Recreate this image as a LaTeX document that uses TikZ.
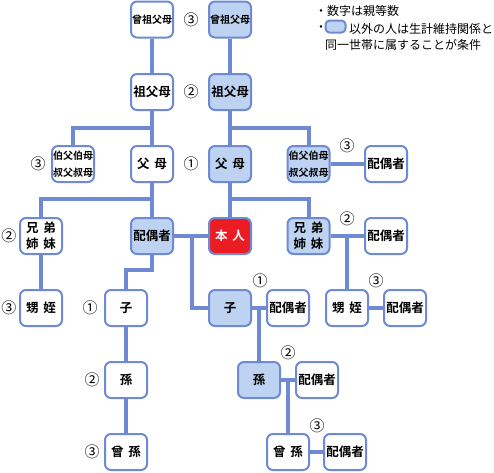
\documentclass[tikz,border=0pt]{standalone}
\usepackage{fontspec}
\setmainfont{Noto Sans CJK JP}[BoldFont=Noto Sans CJK JP Bold]
\usetikzlibrary{backgrounds}
\definecolor{bline}{RGB}{111,138,212}
\definecolor{bfill}{RGB}{190,210,241}
\definecolor{sred}{RGB}{236,28,36}
\tikzset{
  x=1pt,y=-1pt,
  pbox/.style={draw=bline,line width=2pt,rounded corners=6pt,fill=white,minimum width=42pt,minimum height=36pt,inner sep=0pt,align=center,font=\fontsize{12.5}{16}\selectfont\bfseries},
  bbox/.style={pbox,fill=bfill},
  sbox/.style={pbox,draw=bline,fill=sred,text=white},
  small/.style={font=\fontsize{10}{16.5}\selectfont\bfseries},
  conn/.style={draw=bline,line width=4pt},
  deg/.style={font=\fontsize{15}{15}\selectfont,inner sep=0pt},
  legend/.style={font=\fontsize{12}{16}\selectfont,anchor=west,inner sep=0pt},
}
\begin{document}
\begin{tikzpicture}
\useasboundingbox (0,0) rectangle (494,472);
% boxes
\node[pbox,small] (lcgp) at (152,19.5) {曾祖父母};
\node[bbox,small] (rcgp) at (230,19.5) {曾祖父母};
\node[pbox] (lgp) at (152,92) {祖父母};
\node[bbox] (rgp) at (230,92) {祖父母};
\node[pbox,small] (luncle) at (73,164) {伯父伯母\\叔父叔母};
\node[pbox] (lp) at (152,164) {父\hspace{0.4em}母};
\node[bbox] (rp) at (230,164) {父\hspace{0.4em}母};
\node[bbox,small] (runcle) at (308.5,164) {伯父伯母\\叔父叔母};
\node[pbox] (runclesp) at (386,164) {配偶者};
\node[pbox] (lsib) at (41,236) {兄\hspace{0.4em}弟\\姉\hspace{0.4em}妹};
\node[bbox] (lsp) at (152,236) {配偶者};
\node[sbox] (self) at (230,236) {本\hspace{0.4em}人};
\node[bbox] (rsib) at (308.5,236) {兄\hspace{0.4em}弟\\姉\hspace{0.4em}妹};
\node[pbox] (rsibsp) at (386,236) {配偶者};
\node[pbox] (lneph) at (41,308) {甥\hspace{0.4em}姪};
\node[pbox] (lchild) at (126,308) {子};
\node[bbox] (rchild) at (230,308) {子};
\node[pbox] (rchildsp) at (288,308) {配偶者};
\node[pbox] (rneph) at (347,308) {甥\hspace{0.4em}姪};
\node[pbox] (rnephsp) at (405,308) {配偶者};
\node[pbox] (lgc) at (126,380) {孫};
\node[bbox] (rgc) at (259,380) {孫};
\node[pbox] (rgcsp) at (317,380) {配偶者};
\node[pbox] (lggc) at (126,452) {曾\hspace{0.4em}孫};
\node[pbox] (rggc) at (288,452) {曾\hspace{0.4em}孫};
\node[pbox] (rggcsp) at (345,452) {配偶者};
% junctions
\coordinate (j1) at (152,128);
\coordinate (j2) at (230,128);
\coordinate (j3) at (152,199);
\coordinate (j4) at (230,199);
\coordinate (j5) at (192,236);
\coordinate (j6) at (152,270);
\coordinate (j7) at (347,236);
\coordinate (j8) at (259,308);
\coordinate (j9) at (288,380);
% connectors
\begin{scope}[on background layer]
\draw[conn] (lcgp) -- (lgp) -- (lp) -- (lsp);
\draw[conn] (rcgp) -- (rgp) -- (rp) -- (self);
\draw[conn] (luncle) |- (j1);
\draw[conn] (runcle) |- (j2);
\draw[conn] (runcle) -- (runclesp);
\draw[conn] (lsib) |- (j3);
\draw[conn] (rsib) |- (j4);
\draw[conn] (lsp) -- (self);
\draw[conn] (j5) |- (rchild);
\draw[conn] (lsp) -- (j6) -| (lchild);
\draw[conn] (lsib) -- (lneph);
\draw[conn] (rsib) -- (rsibsp);
\draw[conn] (j7) -- (rneph);
\draw[conn] (rneph) -- (rnephsp);
\draw[conn] (rchild) -- (rchildsp);
\draw[conn] (j8) -- (rgc);
\draw[conn] (lchild) -- (lgc) -- (lggc);
\draw[conn] (rgc) -- (rgcsp);
\draw[conn] (j9) -- (rggc);
\draw[conn] (rggc) -- (rggcsp);
\end{scope}
% degree labels
\node[deg] (d1) at (191,19.5) {③};
\node[deg] (d2) at (191,92) {②};
\node[deg] (d3) at (191,164) {①};
\node[deg] (d4) at (38,164) {③};
\node[deg] (d5) at (347,146) {③};
\node[deg] (d6) at (9,236) {②};
\node[deg] (d7) at (347,219) {②};
\node[deg] (d8) at (9,308) {③};
\node[deg] (d9) at (90,308) {①};
\node[deg] (d10) at (260,281) {①};
\node[deg] (d11) at (376,281) {③};
\node[deg] (d12) at (92,380) {②};
\node[deg] (d13) at (288,353) {②};
\node[deg] (d14) at (92,452) {③};
\node[deg] (d15) at (317,426) {③};
% legend
\node[legend] (l1) at (315,11) {・数字は親等数};
\node[legend] (l2a) at (315,29) {・};
\node[draw=bline,line width=2pt,fill=bfill,rounded corners=4pt,minimum width=20pt,minimum height=12pt,inner sep=0pt] (lbox) at (335.5,26.5) {};
\node[legend] (l2) at (349,29) {以外の人は生計維持関係と};
\node[legend] (l3) at (325,45) {同一世帯に属することが条件};
\end{tikzpicture}
\end{document}
